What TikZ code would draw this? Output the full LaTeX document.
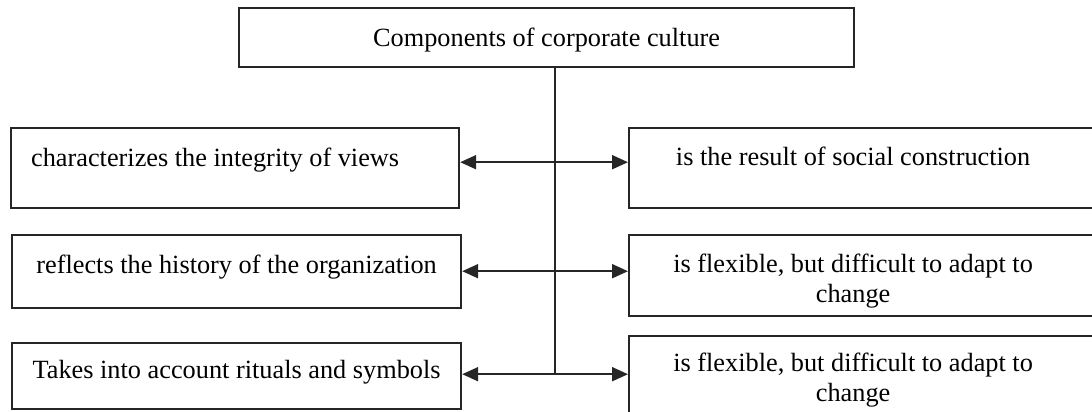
\documentclass[tikz,border=0pt]{standalone}
\usepackage{fontspec}
\setmainfont{Liberation Serif}
\usetikzlibrary{arrows.meta,calc}
\newcommand{\bx}[4]{\parbox[c][#2][t]{#1}{\rule{0pt}{#3}#4}}
\tikzset{
  box/.style={draw=black!85, line width=2.2pt, inner sep=0pt, anchor=north west,
    font=\fontsize{26.3}{30}\selectfont},
  link/.style={draw=black!85, line width=2pt},
  biarrow/.style={link, {Triangle[length=16pt,width=14pt]}-{Triangle[length=16pt,width=14pt]}}
}
\begin{document}
\begin{tikzpicture}[x=1pt,y=-1pt]
\useasboundingbox (0,0) rectangle (1092,412);
\clip (0,0) rectangle (1092,412);
\node[box] (top) at (238,7) {\bx{615pt}{59pt}{38pt}{\centering Components of corporate culture}};
\node[box] (L1) at (10,127) {\bx{448pt}{80pt}{38pt}{\raggedright\hspace*{20pt}characterizes the integrity of views}};
\node[box] (R1) at (628,127) {\bx{472pt}{80pt}{37pt}{\centering\rightskip=24pt plus 1fil is the result of social construction}};
\node[box] (L2) at (11,234) {\bx{449pt}{73pt}{38pt}{\centering reflects the history of the organization}};
\node[box] (R2) at (628,234) {\bx{472pt}{81pt}{37pt}{\centering\rightskip=24pt plus 1fil is flexible, but difficult to adapt to\\ change}};
\node[box] (L3) at (11,342) {\bx{449pt}{66pt}{35pt}{\centering Takes into account rituals and symbols}};
\node[box] (R3) at (628,335) {\bx{472pt}{90pt}{35pt}{\centering\rightskip=24pt plus 1fil is flexible, but difficult to adapt to\\ change}};
\coordinate (t0) at ($(top.south)+(8.5,0)$);
\coordinate (j1) at ($(t0)+(0,94)$);
\coordinate (j2) at ($(t0)+(0,203)$);
\coordinate (j3) at ($(t0)+(0,306)$);
\draw[link] (t0) -- (j3);
\draw[biarrow] (L1.east |- j1) -- (R1.west |- j1);
\draw[biarrow] (L2.east |- j2) -- (R2.west |- j2);
\draw[biarrow] (L3.east |- j3) -- (R3.west |- j3);
\end{tikzpicture}
\end{document}
